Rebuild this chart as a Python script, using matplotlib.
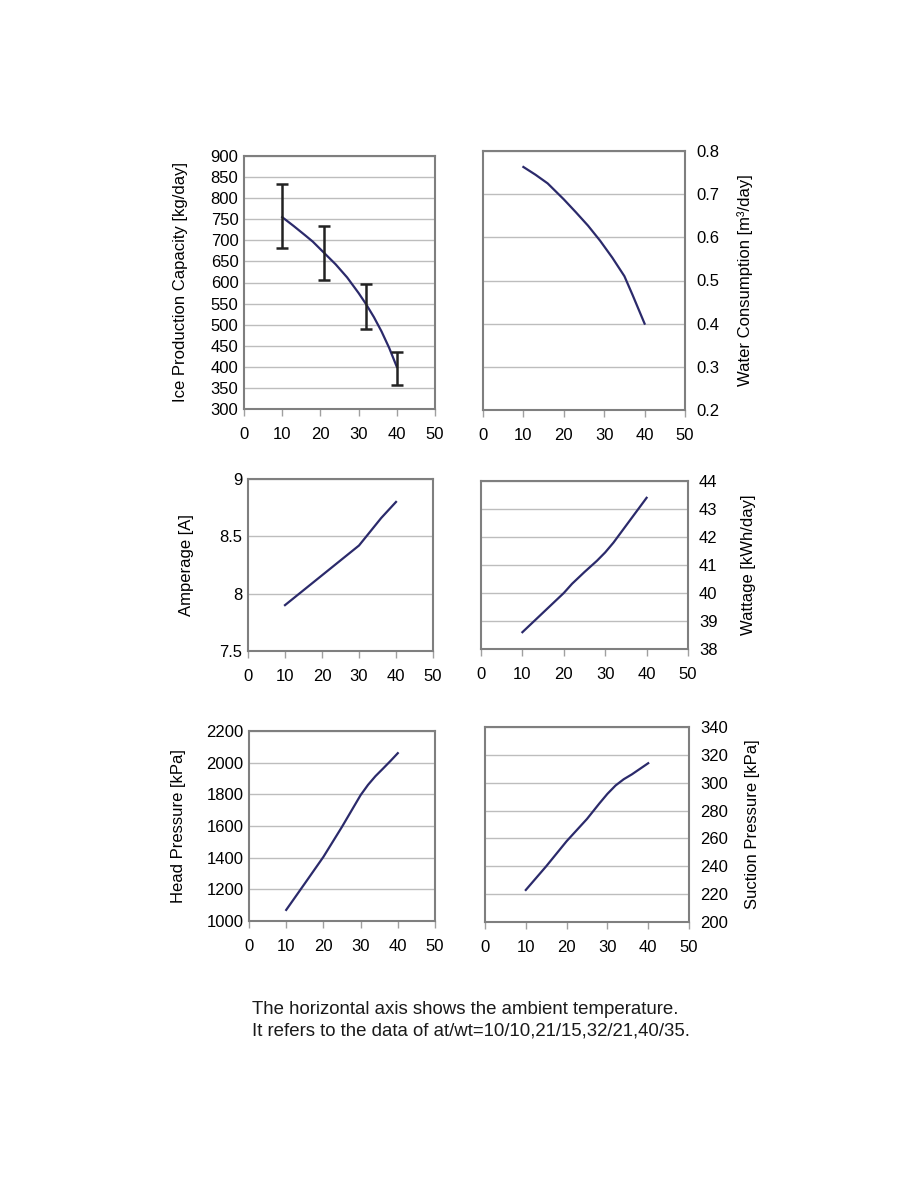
import numpy as np
import matplotlib
matplotlib.use("Agg")
import matplotlib.pyplot as plt

plt.rcParams['font.family'] = ['Liberation Sans', 'DejaVu Sans']

# ambient temperature readings for each curve
ice_x = [10, 13, 16, 18, 21, 24, 27, 30, 32, 34, 36, 38, 40]
ice_y = [755, 734, 712, 697, 670, 643, 612, 575, 548, 518, 484, 445, 400]
ice_err_x = [10, 21, 32, 40]
ice_err_lo = [683, 605, 490, 358]
ice_err_hi = [833, 735, 597, 435]
ice_err_mid = [755, 670, 545, 400]

water_x = [10, 13, 16, 20, 23, 26, 29, 32, 35, 37, 40]
water_y = [0.763, 0.745, 0.725, 0.688, 0.658, 0.627, 0.592, 0.553, 0.51, 0.467, 0.40]

amp_x = [10, 15, 20, 25, 30, 32, 34, 36, 38, 40]
amp_y = [7.90, 8.03, 8.16, 8.29, 8.42, 8.50, 8.58, 8.66, 8.73, 8.80]

watt_x = [10, 15, 20, 22, 25, 28, 30, 32, 34, 36, 38, 40]
watt_y = [38.6, 39.3, 40.0, 40.33, 40.75, 41.15, 41.45, 41.8, 42.2, 42.6, 43.0, 43.4]

head_x = [10, 15, 20, 25, 28, 30, 32, 34, 36, 38, 40]
head_y = [1070, 1237, 1405, 1595, 1715, 1795, 1860, 1915, 1962, 2010, 2060]

suct_x = [10, 15, 20, 25, 28, 30, 32, 34, 36, 38, 40]
suct_y = [223, 240, 258, 274, 285, 292, 298, 302.5, 306, 310, 314]

x_ticks = [0, 10, 20, 30, 40, 50]

W, H = 918, 1188
fig = plt.figure(figsize=(W / 100, H / 100), dpi=100)

LINE = '#2b2a6b'
FRAME = '#7f7f7f'
GRID = '#bdbdbd'
FS = 12


def make_axes(l, t, r, b):
    ax = fig.add_axes([l / W, 1 - b / H, (r - l) / W, (b - t) / H])
    for s in ax.spines.values():
        s.set_color(FRAME)
        s.set_linewidth(1.5)
    ax.set_xlim(0, 50)
    ax.set_xticks(x_ticks)
    ax.tick_params(axis='x', length=5, width=1, color='#a0a0a0', pad=8, labelsize=FS)
    ax.tick_params(axis='y', length=0, pad=4, labelsize=FS)
    ax.grid(axis='y', color=GRID, linewidth=1)
    ax.set_axisbelow(True)
    return ax


def side_label(ax, text, xpix):
    l, b, w, h = ax.get_position().bounds
    fig.text(xpix / W, b + h / 2, text, rotation=90, ha='center', va='center', fontsize=12)


def right_side(ax):
    ax.yaxis.tick_right()
    ax.tick_params(axis='y', length=0, pad=8)


# ice production
ax1 = make_axes(244, 156, 435, 409)
ax1.set_ylim(300, 900)
ax1.set_yticks(np.arange(300, 901, 50))
ax1.plot(ice_x, ice_y, color=LINE, lw=1.6)
ax1.errorbar(ice_err_x, ice_err_mid,
             yerr=[np.subtract(ice_err_mid, ice_err_lo), np.subtract(ice_err_hi, ice_err_mid)],
             fmt='none', ecolor='#222222', elinewidth=1.8, capsize=4, capthick=1.8)
side_label(ax1, 'Ice Production Capacity [kg/day]', 180)

# water consumption
ax2 = make_axes(483, 151, 685, 410)
ax2.set_ylim(0.2, 0.8)
ax2.set_yticks([0.2, 0.3, 0.4, 0.5, 0.6, 0.7, 0.8])
ax2.plot(water_x, water_y, color=LINE, lw=1.6)
right_side(ax2)
side_label(ax2, 'Water Consumption [m³/day]', 745)

# amperage
ax3 = make_axes(248, 479, 433, 651)
ax3.set_ylim(7.5, 9)
ax3.set_yticks([7.5, 8, 8.5, 9])
ax3.set_yticklabels(['7.5', '8', '8.5', '9'])
ax3.plot(amp_x, amp_y, color=LINE, lw=1.6)
side_label(ax3, 'Amperage [A]', 186)

# wattage
ax4 = make_axes(481, 481, 688, 649)
ax4.set_ylim(38, 44)
ax4.set_yticks(range(38, 45))
ax4.plot(watt_x, watt_y, color=LINE, lw=1.6)
right_side(ax4)
side_label(ax4, 'Wattage [kWh/day]', 749)

# head pressure
ax5 = make_axes(249, 731, 435, 921)
ax5.set_ylim(1000, 2200)
ax5.set_yticks(range(1000, 2201, 200))
ax5.plot(head_x, head_y, color=LINE, lw=1.6)
side_label(ax5, 'Head Pressure [kPa]', 178)

# suction pressure
ax6 = make_axes(485, 727, 689, 922)
ax6.set_ylim(200, 340)
ax6.set_yticks(range(200, 341, 20))
ax6.plot(suct_x, suct_y, color=LINE, lw=1.6)
right_side(ax6)
side_label(ax6, 'Suction Pressure [kPa]', 752)

fig.text(252 / W, 1 - 1010 / H, 'The horizontal axis shows the ambient temperature.',
         ha='left', va='center', fontsize=13.4, color='#1a1a1a')
fig.text(252 / W, 1 - 1031 / H, 'It refers to the data of at/wt=10/10,21/15,32/21,40/35.',
         ha='left', va='center', fontsize=13.4, color='#1a1a1a')

fig.savefig('out.png', dpi=100)
